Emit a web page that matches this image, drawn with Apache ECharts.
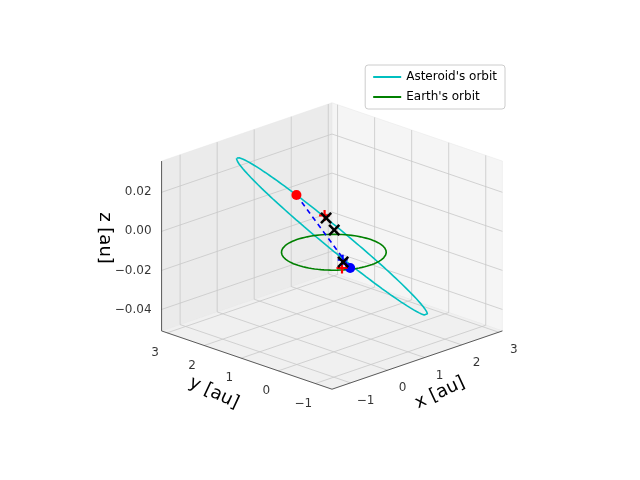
<!DOCTYPE html>
<html><head><meta charset="utf-8">
<script src="https://cdn.jsdelivr.net/npm/echarts@6/dist/echarts.min.js"></script>
<style>html,body{margin:0;background:#fff}#main{width:640px;height:480px}</style>
</head><body><div id="main"></div>
<script>
// axis limits and ticks
var xLim = [-1.5, 3.1], yLim = [-1.45, 3.15], zLim = [-0.051, 0.036];
var xTicks = [-1, 0, 1, 2, 3];
var yTicks = [-1, 0, 1, 2, 3];
var zTicks = [-0.04, -0.02, 0.00, 0.02];
// asteroid orbit geometry: center + two half axes (au)
var orbitCenter = [0.985, 1.035, -0.005];
var orbitA = [-0.885, 1.685, 0.035];
var orbitB = [0.40, 0.21, 0.0];
var earthRadius = 1.0;
// points
var redDot = [0.94, 1.95, 0.0106];
var blueDot = [0.855, 0.415, -0.0163];
var blackX = [[1.25, 1.46, 0.0], [1.04, 1.03, -0.002], [0.51, 0.26, -0.010]];
var redPlus = [[1.25, 1.50, 0.001], [0.26, 0.04, -0.010]];
var bluePlus = [[0.52, 0.28, -0.009]];

var elev = 20 * Math.PI / 180, azim = -135 * Math.PI / 180;
function project(p) {
  var xn = (p[0] - (xLim[0] + xLim[1]) / 2) / (xLim[1] - xLim[0]);
  var yn = (p[1] - (yLim[0] + yLim[1]) / 2) / (yLim[1] - yLim[0]);
  var zn = 0.75 * (p[2] - (zLim[0] + zLim[1]) / 2) / (zLim[1] - zLim[0]);
  var u = -Math.sin(azim) * xn + Math.cos(azim) * yn;
  var v = -Math.sin(elev) * Math.cos(azim) * xn - Math.sin(elev) * Math.sin(azim) * yn + Math.cos(elev) * zn;
  return [u, v];
}
var S = 241, CX = 332, CY = 246;
function fmt(t) { return String(t).replace('-', '\u2212'); }

// panes
var x0 = xLim[0], x1 = xLim[1], y0 = yLim[0], y1 = yLim[1], z0 = zLim[0], z1 = zLim[1];
var panes = [
  {pts: [[x0, y1, z0], [x1, y1, z0], [x1, y1, z1], [x0, y1, z1]], color: '#ebebeb'},
  {pts: [[x1, y0, z0], [x1, y1, z0], [x1, y1, z1], [x1, y0, z1]], color: '#f5f5f5'},
  {pts: [[x0, y0, z0], [x1, y0, z0], [x1, y1, z0], [x0, y1, z0]], color: '#f0f0f0'}
];
// grid segments
var gridSegs = [];
xTicks.forEach(function (t) {
  gridSegs.push([[t, y0, z0], [t, y1, z0], [t, y1, z1]]);
});
yTicks.forEach(function (t) {
  gridSegs.push([[x0, t, z0], [x1, t, z0], [x1, t, z1]]);
});
zTicks.forEach(function (t) {
  gridSegs.push([[x0, y1, t], [x1, y1, t], [x1, y0, t]]);
});
var axisSegs = [[[x0, y0, z0], [x1, y0, z0]], [[x0, y0, z0], [x0, y1, z0]], [[x0, y1, z0], [x0, y1, z1]]];

var N = 200, asteroid = [], earth = [];
for (var i = 0; i <= N; i++) {
  var th = 2 * Math.PI * i / N, c = Math.cos(th), s = Math.sin(th);
  asteroid.push(project([orbitCenter[0] + orbitA[0] * c + orbitB[0] * s,
    orbitCenter[1] + orbitA[1] * c + orbitB[1] * s,
    orbitCenter[2] + orbitA[2] * c + orbitB[2] * s]));
  earth.push(project([earthRadius * c, earthRadius * s, 0]));
}

function polySeries(list, style, z) {
  return {
    type: 'custom', silent: true, z: z, data: list.map(function (_, k) { return k; }),
    renderItem: function (params, api) {
      var it = list[params.dataIndex];
      var pts = (it.pts || it).map(function (p) { return api.coord(project(p)); });
      if (it.pts) return {type: 'polygon', shape: {points: pts}, style: {fill: it.color, stroke: '#e6e6e6', lineWidth: 0.5}};
      return {type: 'polyline', shape: {points: pts}, style: style};
    }
  };
}
function tickLabels(pts, labels, offset, align) {
  return {
    type: 'scatter', symbolSize: 0, silent: true, z: 5,
    data: pts.map(function (p, k) { return {value: project(p), label: {formatter: labels[k]}}; }),
    label: {show: true, position: 'inside', offset: offset, align: align, color: '#000', fontSize: 12, fontFamily: 'DejaVu Sans'}
  };
}
var xPath = 'path://M0,1.5L1.5,0L5,3.5L8.5,0L10,1.5L6.5,5L10,8.5L8.5,10L5,6.5L1.5,10L0,8.5L3.5,5Z';
var plusPath = 'path://M4,0L6,0L6,4L10,4L10,6L6,6L6,10L4,10L4,6L0,6L0,4L4,4Z';
var solid = {opacity: 1};

var option = {
  animation: false,
  grid: {left: 0, right: 0, top: 0, bottom: 0},
  xAxis: {type: 'value', min: -CX / S, max: (640 - CX) / S, show: false},
  yAxis: {type: 'value', min: -(480 - CY) / S, max: CY / S, show: false},
  legend: {
    right: 135, top: 65, orient: 'vertical', backgroundColor: '#fff', borderColor: '#ccc', borderWidth: 1,
    borderRadius: 3, padding: [6, 8], itemGap: 8, itemWidth: 28, itemHeight: 2,
    textStyle: {fontSize: 12, fontFamily: 'DejaVu Sans', color: '#000'},
    data: [{name: "Asteroid's orbit", icon: 'rect'}, {name: "Earth's orbit", icon: 'rect'}]
  },
  graphic: [
    {type: 'text', x: 440, y: 393, rotation: 25 * Math.PI / 180, style: {text: 'x [au]', fontSize: 18, fontFamily: 'DejaVu Sans', fill: '#000', align: 'center', verticalAlign: 'middle'}},
    {type: 'text', x: 214, y: 393, rotation: -25 * Math.PI / 180, style: {text: 'y [au]', fontSize: 18, fontFamily: 'DejaVu Sans', fill: '#000', align: 'center', verticalAlign: 'middle'}},
    {type: 'text', x: 105, y: 238, rotation: -Math.PI / 2, style: {text: 'z [au]', fontSize: 18, fontFamily: 'DejaVu Sans', fill: '#000', align: 'center', verticalAlign: 'middle'}}
  ],
  series: [
    polySeries(panes, null, 1),
    polySeries(gridSegs, {stroke: '#c8c8c8', lineWidth: 0.8, fill: null}, 2),
    polySeries(axisSegs, {stroke: '#333', lineWidth: 0.8, fill: null}, 3),
    tickLabels(xTicks.map(function (t) { return [t, y0, z0]; }), xTicks.map(fmt), [15, 18], 'center'),
    tickLabels(yTicks.map(function (t) { return [x0, t, z0]; }), yTicks.map(fmt), [-12, 20], 'center'),
    tickLabels(zTicks.map(function (t) { return [x0, y1, t]; }), zTicks.map(function (t) { return fmt(t.toFixed(2)); }), [-10, 0], 'right'),
    {name: "Asteroid's orbit", type: 'line', data: asteroid, showSymbol: false, color: '#00bfbf', lineStyle: {width: 1.6}, z: 6},
    {name: "Earth's orbit", type: 'line', data: earth, showSymbol: false, color: '#008000', lineStyle: {width: 1.6}, z: 7},
    {type: 'line', data: [project(redDot), project(blueDot)], showSymbol: false, color: '#0000ff', lineStyle: {width: 1.6, type: [5, 4]}, z: 8},
    {type: 'scatter', data: [project(redDot)], symbolSize: 10, color: '#ff0000', itemStyle: solid, z: 9},
    {type: 'scatter', data: [project(blueDot)], symbolSize: 10, color: '#0000ff', itemStyle: solid, z: 9},
    {type: 'scatter', data: redPlus.map(project), symbol: plusPath, symbolSize: 11, color: '#ff0000', itemStyle: solid, z: 9},
    {type: 'scatter', data: bluePlus.map(project), symbol: plusPath, symbolSize: 10, color: '#0000ff', itemStyle: solid, z: 10},
    {type: 'scatter', data: blackX.map(project), symbol: xPath, symbolSize: 12, color: '#000', itemStyle: solid, z: 11}
  ]
};
echarts.init(document.getElementById('main')).setOption(option);
</script></body></html>
